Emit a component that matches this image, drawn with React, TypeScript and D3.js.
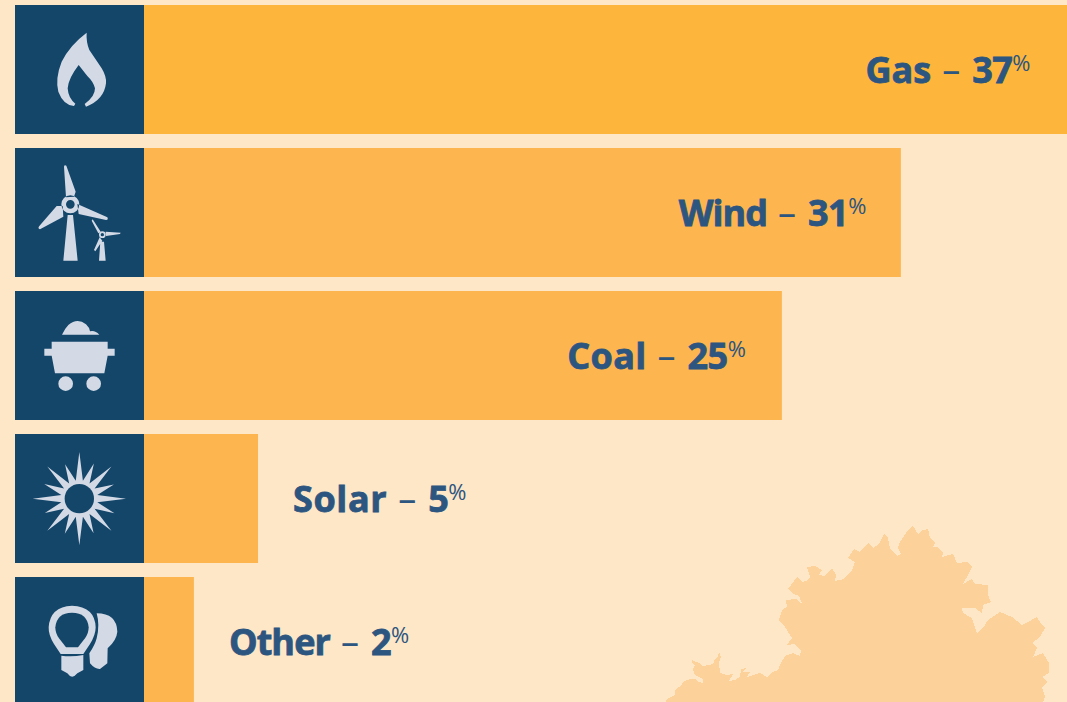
import React from "react";
import * as d3 from "d3";

const categories = ["Gas", "Wind", "Coal", "Solar", "Other"];
const labelValues = [37, 31, 25, 5, 2];
const barValues = [37, 30.34, 25.57, 4.57, 2.0];
const labelInside = [true, true, true, false, false];
const barColors = ["#FDB53B", "#FDB54F", "#FDB54F", "#FDB54F", "#FDB54F"];
const nameSpacing = [0, -1.0, 0.3, 0.6, -0.9];
const labelGap = [36.5, 34.5, 36, 35, 35];

const blobOutline: [number, number][] = [
  [666,702],[667,699],[675,695],[675,690],[682,685],[683,682],[690,679],[695,679],[698,682],[703,683],[703,679],[699,677],[695,675],[693,669],[695,665],[692,663],[692,660],[699,663],[703,666],[713,664],[715,659],[718,657],[719,652],[721,657],[719,663],[720,673],[726,675],[733,674],[729,681],[735,680],[740,677],[741,669],[746,668],[743,672],[750,672],[747,677],[760,673],[767,677],[772,672],[778,670],[781,663],[785,656],[793,653],[800,656],[801,651],[795,644],[787,645],[792,638],[785,627],[779,620],[782,610],[787,607],[786,600],[796,599],[800,603],[802,603],[799,596],[792,593],[788,589],[791,585],[797,577],[802,582],[808,580],[810,577],[807,567],[815,566],[822,570],[819,575],[825,576],[832,568],[836,575],[835,581],[844,579],[852,570],[855,562],[848,558],[854,549],[860,552],[868,543],[873,548],[879,544],[884,534],[888,538],[890,548],[897,556],[901,554],[898,548],[900,542],[908,530],[913,526],[918,534],[923,530],[928,529],[930,538],[935,543],[933,547],[937,547],[943,553],[942,557],[953,554],[957,563],[967,562],[972,567],[969,573],[963,584],[972,579],[975,584],[988,585],[988,595],[991,602],[983,605],[982,613],[975,608],[962,608],[963,613],[972,618],[977,633],[983,628],[988,620],[1000,612],[1012,617],[1022,625],[1028,622],[1037,617],[1040,622],[1045,628],[1040,637],[1032,643],[1037,648],[1033,657],[1043,653],[1049,663],[1049,673],[1042,677],[1047,682],[1042,687],[1045,697],[1043,702],
];

const W = 1067, H = 702;
const BG = "#FEE7C7", BOX = "#14466A", ICON = "#D3DAE6", TEXT = "#2C5580", BLOB = "#FDD29A";
const FONT = "'Open Sans', 'Noto Sans', sans-serif";

const x = d3.scaleLinear().domain([0, 37]).range([144, 1067]);
const y = d3.scaleBand<string>().domain(categories).range([5, 706]).paddingInner(14 / 143).paddingOuter(0);

const circle = (cx: number, cy: number, r: number) =>
  `M${cx - r},${cy}a${r},${r} 0 1,0 ${2 * r},0a${r},${r} 0 1,0 ${-2 * r},0Z`;

function starPath() {
  const c = [238, 626];
  const pts: [number, number][] = [];
  const tips = [140, 114, 136, 112];
  for (let i = 0; i < 16; i++) {
    const a = (i * Math.PI) / 8;
    const r = tips[i % 4];
    pts.push([c[0] + r * Math.sin(a), c[1] - r * Math.cos(a)]);
    const b = a + Math.PI / 16;
    pts.push([c[0] + 55 * Math.sin(b), c[1] - 55 * Math.cos(b)]);
  }
  return `M${pts.map((p) => p.join(",")).join("L")}Z`;
}

const iconPaths: { off: [number, number]; d: string; holes?: string }[] = [
  {
    off: [45, 15],
    d: "M260,98 Q258,125 268,150 Q285,175 305,205 Q320,230 318,250 Q312,300 258,320 L254,312 Q285,290 285,265 Q280,245 262,228 L236,195 Q205,235 203,265 Q205,295 226,311 L222,318 Q190,315 175,275 Q165,235 185,185 Q210,135 260,98Z",
  },
  {
    off: [45, 444],
    d:
      "M192,500 Q193,494 199,497 L227,575 L222,590 L198,592Z" +
      "M232,612 L322,652 Q326,660 318,660 L236,642Z" +
      "M190,650 L120,688 Q112,685 118,678 L170,618 L188,618Z" +
      "M203,645 L219,645 L233,782 L190,782Z" +
      circle(211, 613, 27) +
      "M275,662 L278,658 L302,695 L295,700Z M317,695 L362,698 L360,702 L318,708Z M299,712 L307,722 L286,754 L282,750Z M301,725 L312,725 L317,782 L297,782Z" +
      circle(307, 704, 10),
    holes: circle(211, 613, 13) + circle(307, 704, 5),
  },
  {
    off: [45, 3],
    d:
      "M186,134 Q195,115 205,105 Q232,82 258,103 Q268,112 270,124 Q285,120 298,134Z" +
      "M155,155 L323,155 L323,176 L344,176 L344,197 L323,197 L313,250 L165,250 L155,197 L133,197 L133,176 L155,176Z" +
      circle(197, 281, 22) + circle(281, 281, 22),
  },
  { off: [45, 432], d: starPath(), holes: circle(238, 626, 44) },
  {
    off: [45, 21],
    d:
      "M182,252 L162,222 Q145,195 146,172 Q150,110 216,107 Q285,110 287,172 Q287,195 270,222 L250,252Z" +
      "M184,257 Q216,262 250,255 L250,300 L232,310 Q216,330 202,310 L184,300Z" +
      "M290,130 Q350,130 352,185 Q350,210 323,235 L322,280 L300,297 Q285,298 270,280 L268,250 Q285,225 290,205 Q300,165 290,130Z",
    holes: "M198,232 L234,232 L255,205 Q266,190 266,172 Q262,128 216,128 Q170,128 166,172 Q166,190 177,205Z",
  },
];

export default function App() {
  const blob = d3.line()(blobOutline) + "Z";
  return (
    <svg
      width={W}
      height={H}
      viewBox={`0 0 ${W} ${H}`}
      style={{ position: "fixed", left: 0, top: 0, display: "block", background: BG }}
    >
      <path d={blob} fill={BLOB} shapeRendering="crispEdges" />
      {categories.map((c, i) => {
        const top = y(c)!;
        const end = x(barValues[i]);
        const inside = labelInside[i];
        const ic = iconPaths[i];
        return (
          <g key={c}>
            <rect x={15} y={top} width={129} height={y.bandwidth()} fill={BOX} />
            <rect x={144} y={top} width={end - 144} height={y.bandwidth()} fill={barColors[i]} />
            <g transform={`translate(15,${top}) scale(${1 / 3}) translate(${-ic.off[0]},${-ic.off[1]})`}>
              <path d={ic.d} fill={ICON} />
              {ic.holes && <path d={ic.holes} fill={BOX} />}
            </g>
            <text
              x={inside ? end - labelGap[i] : end + labelGap[i]}
              y={top + 78}
              textAnchor={inside ? "end" : "start"}
              fontFamily={FONT}
              fontSize={36}
              fill={TEXT}
              fontWeight={700}
            >
              <tspan letterSpacing={nameSpacing[i]} stroke={TEXT} strokeWidth={0.8}>{c}</tspan>
              <tspan fontWeight={500} dx={11}>–</tspan>
              <tspan dx={12} letterSpacing={-0.5} stroke={TEXT} strokeWidth={0.8}>{labelValues[i]}</tspan>
              <tspan fontSize={22} fontWeight={400} dy={-12}>%</tspan>
            </text>
          </g>
        );
      })}
    </svg>
  );
}
